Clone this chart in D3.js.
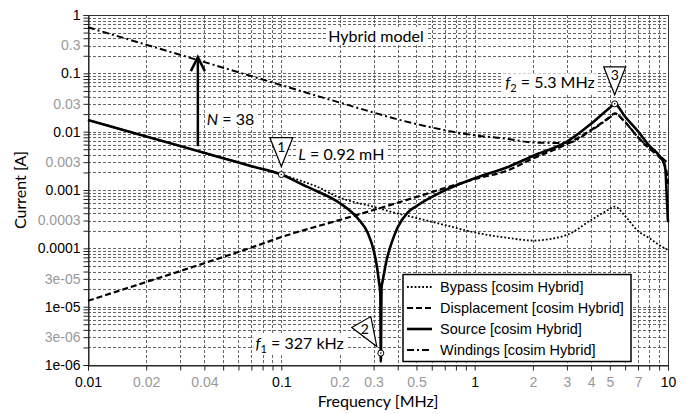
<!DOCTYPE html>
<html><head><meta charset="utf-8">
<script src="https://cdn.jsdelivr.net/npm/d3@7"></script>
<style>
body{margin:0;background:#fff;}
svg{display:block;}
.tick text{font-family:"Liberation Sans",Arial,sans-serif;font-size:14px;}
.ann{font-family:Lato,"Open Sans",sans-serif;font-size:16px;fill:#000;}
.leg{font-family:"Liberation Sans",Arial,sans-serif;font-size:14.5px;fill:#000;}
</style></head>
<body>
<script>
// ---------- data ----------
const sourceFreq = [0.01,0.02,0.03,0.05,0.07,0.1,0.13,0.15,0.2,0.25,0.28,0.3,0.31,0.32,0.325,0.327,0.33,0.335,0.35,0.37,0.4,0.45,0.5,0.7,1,1.5,2,3,4,5,5.3,6,7,8,9,9.5,9.7,9.85,10];
const sourceCurrent = [0.0158,0.00826,0.00566,0.00351,0.00256,0.00184,1.22e-3,9.8e-4,5.98e-4,3.18e-4,1.83e-4,9.36e-5,5.6e-5,2.65e-5,1.71e-5,1.15e-6,2.17e-5,2.86e-5,6.2e-5,1.18e-4,2.3e-4,4.1e-4,5.3e-4,9.84e-4,1.59e-3,2.51e-3,3.83e-3,6.73e-3,0.01364,0.0258,0.0300,0.0180,0.0101,5.77e-3,3.90e-3,2.95e-3,2.2e-3,8e-4,2.8e-4];

const displacementFreq = [0.01,0.02,0.03,0.05,0.07,0.1,0.2,0.3,0.5,1,1.5,2,3,4,5,5.3,6,7,8,9,9.5,9.8,10];
const displacementCurrent = [1.26e-5,2.65e-5,4.08e-5,7.1e-5,1.03e-4,1.56e-4,3.06e-4,4.54e-4,7.59e-4,1.54e-3,2.2e-3,3.47e-3,6.14e-3,0.0107,0.0178,0.0206,0.0146,7.94e-3,5.14e-3,3.68e-3,2.9e-3,2.2e-3,1.27e-3];

const windingsFreq = [0.01,0.02,0.05,0.1,0.2,0.5,1,1.5,2,3,4,5,5.3,6,7,8,9,10];
const windingsCurrent = [0.615,0.31,0.125,0.0628,0.0316,0.0135,8.66e-3,7.48e-3,6.52e-3,6.39e-3,0.0105,0.0175,0.0203,0.0145,0.0080,0.0053,0.0039,0.0029];

const bypassFreq = [0.01,0.02,0.03,0.05,0.07,0.1,0.13,0.15,0.2,0.3,0.4,0.5,0.7,1,1.5,2,3,4,5,5.3,6,7,8,9,10];
const bypassCurrent = [0.0158,0.00826,0.00566,0.00351,0.00256,0.00184,1.39e-3,1.17e-3,7.43e-4,5.15e-4,3.95e-4,3.31e-4,2.51e-4,1.87e-4,1.50e-4,1.36e-4,1.7e-4,3.06e-4,4.72e-4,5.18e-4,3.58e-4,1.98e-4,1.50e-4,1.14e-4,9.36e-5];

const xTickValues = [0.01,0.02,0.04,0.1,0.2,0.3,0.5,1,2,3,4,5,7,10];
const xTickLabels = ["0.01","0.02","0.04","0.1","0.2","0.3","0.5","1","2","3","4","5","7","10"];
const yTickValues = [1,0.3,0.1,0.03,0.01,0.003,0.001,0.0003,0.0001,3e-5,1e-5,3e-6,1e-6];
const yTickLabels = ["1","0.3","0.1","0.03","0.01","0.003","0.001","0.0003","0.0001","3e-05","1e-05","3e-06","1e-06"];

const seriesNames = ["Bypass [cosim Hybrid]","Displacement [cosim Hybrid]","Source [cosim Hybrid]","Windings [cosim Hybrid]"];

// markers: [freq, current]
const marker1 = [0.1, 0.00184];
const marker2 = [0.327, 1.6e-6];
const marker3 = [5.3, 0.0300];
const arrowFreq = 0.037, arrowFrom = 0.005, arrowTo = 0.19;

// ---------- layout ----------
const W = 691, H = 414;
const m = {l:88, t:15, r:23, b:49};
const svg = d3.select("body").append("svg").attr("width",W).attr("height",H);
const x = d3.scaleLog().domain([0.01,10]).range([m.l, W-m.r]);
const y = d3.scaleLog().domain([1e-6,1]).range([H-m.b, m.t]);

// minor values
const xMinor = [], yMinor = [];
for (let e=-2;e<1;e++) for (let k=1;k<10;k++) xMinor.push(k*Math.pow(10,e));
xMinor.push(10);
for (let e=-6;e<0;e++) for (let k=1;k<10;k++) yMinor.push(k*Math.pow(10,e));
yMinor.push(1);

// grid
const grid = svg.append("g").attr("stroke","#555").attr("stroke-width",0.9).attr("stroke-dasharray","3,2");
grid.selectAll(".gx").data(xMinor).join("line")
  .attr("x1",d=>Math.round(x(d))+0.5).attr("x2",d=>Math.round(x(d))+0.5)
  .attr("y1",m.t).attr("y2",H-m.b);
grid.selectAll(".gy").data(yMinor).join("line")
  .attr("y1",d=>Math.round(y(d))+0.5).attr("y2",d=>Math.round(y(d))+0.5)
  .attr("x1",m.l).attr("x2",W-m.r);

// frame
svg.append("rect").attr("x",m.l+0.5).attr("y",m.t+0.5).attr("width",W-m.r-m.l).attr("height",H-m.b-m.t)
  .attr("fill","none").attr("stroke","#333").attr("stroke-width",1);

// axes
const xAxis = svg.append("g").attr("transform",`translate(0,${H-m.b+0.5})`)
  .call(d3.axisBottom(x).tickValues(xMinor).tickSize(5).tickPadding(4)
    .tickFormat(d=>{const i=xTickValues.findIndex(v=>Math.abs(v-d)/v<1e-6);return i>=0?xTickLabels[i]:"";}));
const yAxis = svg.append("g").attr("transform",`translate(${m.l+0.5},0)`)
  .call(d3.axisLeft(y).tickValues(yMinor).tickSize(5).tickPadding(3)
    .tickFormat(d=>{const i=yTickValues.findIndex(v=>Math.abs(v-d)/v<1e-6);return i>=0?yTickLabels[i]:"";}));
[xAxis,yAxis].forEach(a=>{
  a.select(".domain").attr("stroke","#222");
  a.selectAll(".tick line").attr("stroke","#222");
  a.selectAll(".tick text").attr("fill",d=>{
    const l=Math.log10(d); return Math.abs(l-Math.round(l))<1e-6?"#000":"#999";});
});
xAxis.selectAll(".tick text").attr("dy","0.9em");

// axis titles
svg.append("text").attr("class","ann").attr("x",(m.l+W-m.r)/2).attr("y",407).attr("text-anchor","middle")
  .text("Frequency [MHz]");
svg.append("text").attr("class","ann").attr("transform",`translate(26,${(m.t+H-m.b)/2}) rotate(-90)`)
  .attr("text-anchor","middle").text("Current [A]");

// curves
const line = d3.line().x(d=>x(d[0])).y(d=>y(d[1])).curve(d3.curveMonotoneX);
const zip = (a,b)=>a.map((v,i)=>[v,b[i]]);
const styles = [
  {f:bypassFreq, v:bypassCurrent, w:1.8, dash:"1.8,2"},
  {f:displacementFreq, v:displacementCurrent, w:2.2, dash:"6,3"},
  {f:sourceFreq, v:sourceCurrent, w:2.6, dash:null},
  {f:windingsFreq, v:windingsCurrent, w:2, dash:"7,3,2,3"}
];
const plot = svg.append("g");
[3,0,1,2].forEach(i=>{
  const s=styles[i];
  plot.append("path").attr("d",line(zip(s.f,s.v))).attr("fill","none").attr("stroke","#000")
    .attr("stroke-width",s.w).attr("stroke-dasharray",s.dash).attr("stroke-linejoin","round");
});

// white background behind annotation text
function bg(t){
  const b=t.node().getBBox();
  svg.insert("rect", function(){return t.node();}).attr("x",b.x-2).attr("y",b.y+1).attr("width",b.width+4).attr("height",b.height-2).attr("fill","#fff");
  return t;
}

// title
bg(svg.append("text").attr("class","ann").attr("x",376).attr("y",42).attr("text-anchor","middle")
  .text("Hybrid model"));

// arrow N = 38
const ax = x(arrowFreq);
svg.append("line").attr("x1",ax).attr("x2",ax).attr("y1",y(arrowFrom)-3).attr("y2",y(arrowTo)+1)
  .attr("stroke","#000").attr("stroke-width",2.5);
svg.append("path").attr("d",`M${ax-7},${y(arrowTo)+14}L${ax},${y(arrowTo)}L${ax+7},${y(arrowTo)+14}`)
  .attr("fill","none").attr("stroke","#000").attr("stroke-width",2.5);
const tN = svg.append("text").attr("class","ann").attr("x",ax+9).attr("y",125);
tN.append("tspan").style("font-style","italic").text("N");
tN.append("tspan").text(" = 38");
bg(tN);

// markers
function marker(pt, tri, num, numOff){
  const cx=x(pt[0]), cy=y(pt[1]);
  svg.append("path").attr("d","M"+tri.map(p=>`${cx+p[0]},${cy+p[1]}`).join("L")+"Z")
    .attr("fill","#fff").attr("stroke","#000").attr("stroke-width",1.2);
  svg.append("text").attr("class","ann").attr("x",cx+numOff[0]).attr("y",cy+numOff[1])
    .attr("text-anchor","middle").attr("dominant-baseline","central").style("font-size","14px").text(num);
  svg.append("circle").attr("cx",cx).attr("cy",cy).attr("r",3).attr("fill","#fff").attr("stroke","#000").attr("stroke-width",1);
  svg.append("circle").attr("cx",cx).attr("cy",cy).attr("r",0.8).attr("fill","#000");
  return [cx,cy];
}
const p1 = marker(marker1, [[-11.5,-37],[11.5,-37],[0,-8]], "1", [0,-28]);
const p2 = marker(marker2, [[-29,-25.5],[-10,-36.5],[-4,-6.5]], "2", [-16,-25]);
const p3 = marker(marker3, [[-11,-37],[11,-37],[0,-9]], "3", [0,-29]);

const tL = svg.append("text").attr("class","ann").attr("x",p1[0]+17).attr("y",p1[1]-14.5);
tL.append("tspan").style("font-style","italic").text("L");
tL.append("tspan").text(" = 0.92 mH");
bg(tL);

const tf2 = svg.append("text").attr("class","ann").attr("x",p3[0]-20).attr("y",p3[1]-15.5).attr("text-anchor","end");
tf2.append("tspan").style("font-style","italic").text("f");
tf2.append("tspan").attr("dy",4).style("font-size","11px").text("2");
tf2.append("tspan").attr("dy",-4).text(" = 5.3 MHz");
bg(tf2);

const tf1 = svg.append("text").attr("class","ann").attr("x",p2[0]-37).attr("y",p2[1]-4).attr("text-anchor","end");
tf1.append("tspan").style("font-style","italic").text("f");
tf1.append("tspan").attr("dy",4).style("font-size","11px").text("1");
tf1.append("tspan").attr("dy",-4).text(" = 327 kHz");
bg(tf1);

// legend
const lg = svg.append("g");
lg.append("rect").attr("x",403).attr("y",274.5).attr("width",228).attr("height",87)
  .attr("fill","#fff").attr("stroke","#000").attr("stroke-width",1.5);
seriesNames.forEach((n,i)=>{
  const yy = 287 + i*21;
  const s = styles[i];
  lg.append("line").attr("x1",407).attr("x2",432).attr("y1",yy).attr("y2",yy)
    .attr("stroke","#000").attr("stroke-width",s.w).attr("stroke-dasharray",s.dash);
  lg.append("text").attr("class","leg").attr("x",440).attr("y",yy).attr("dominant-baseline","central")
    .text(n);
});
</script>
</body></html>
